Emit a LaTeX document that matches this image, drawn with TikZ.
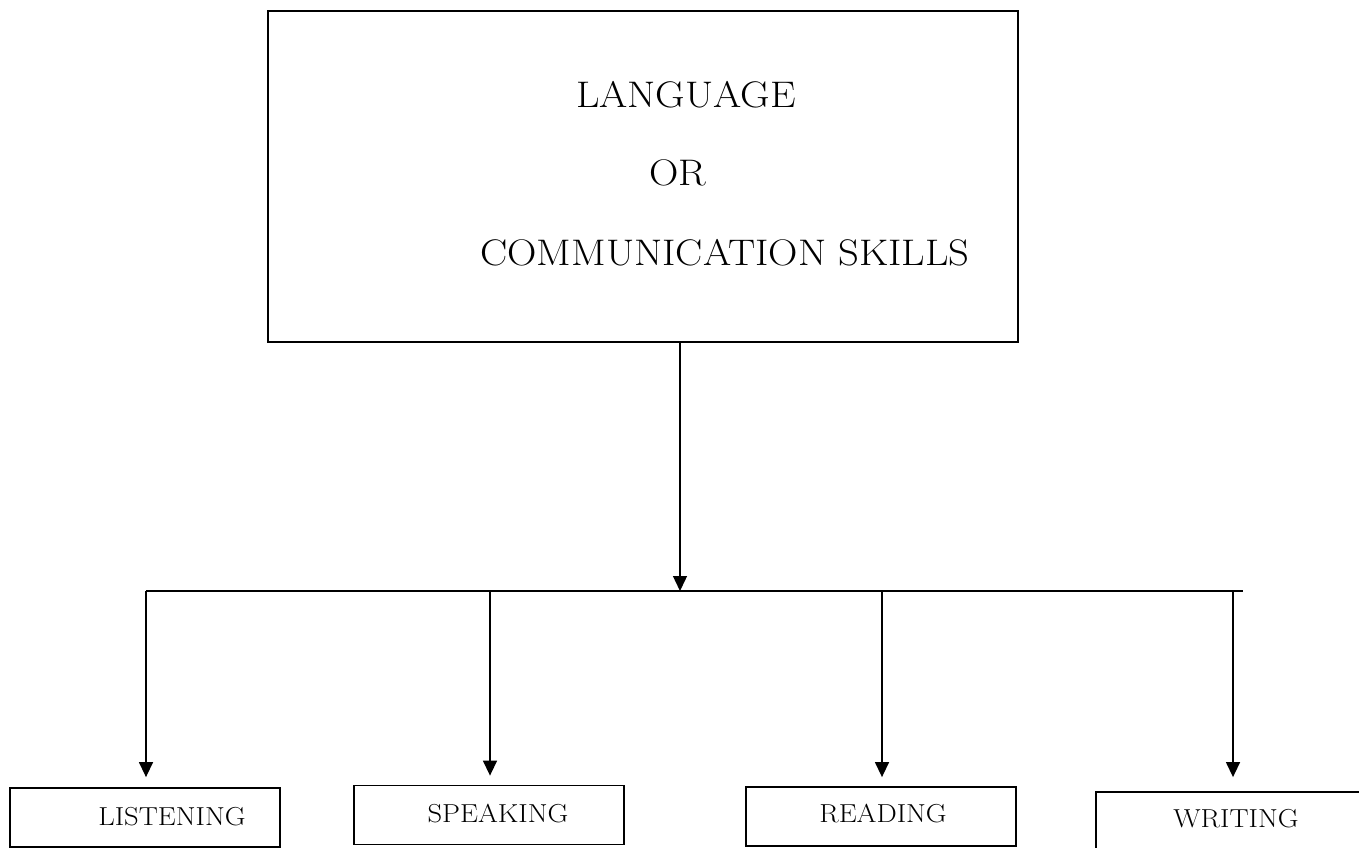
\documentclass[tikz,border=0pt]{standalone}
\usepackage{graphicx}
\usetikzlibrary{arrows.meta}
\newcommand{\wider}[1]{\scalebox{1.1}[1]{#1}}
\begin{document}
\begin{tikzpicture}[x=1pt, y=-1pt, >={Triangle[length=15pt,width=14pt]},
  mainbox/.style={draw, line width=1.8pt, minimum width=750pt, minimum height=331pt, inner sep=0pt},
  skillbox/.style={draw, line width=1.8pt, minimum width=270pt, minimum height=59pt, inner sep=0pt},
  bigtext/.style={anchor=base, inner sep=0pt, font=\fontsize{37}{44}\selectfont},
  smalltext/.style={anchor=base, inner sep=0pt, font=\fontsize{26}{31}\selectfont},
  link/.style={line width=1.4pt}]
  \useasboundingbox (0,0) rectangle (1359,848);

  \node[mainbox] (lang) at (643,176.5) {};
  \node[bigtext] (langA) at (686,108) {\wider{LANGUAGE}};
  \node[bigtext] (langB) at (678,185) {\wider{OR}};
  \node[bigtext] (langC) at (725,265) {\wider{COMMUNICATION SKILLS}};

  \node[skillbox] (listen) at (145,817.5) {};
  \node[skillbox] (speak) at (489,815) {};
  \node[skillbox] (read) at (881,816.5) {};
  \node[skillbox, minimum width=268pt, minimum height=62pt] (write) at (1230,823) {};
  \node[smalltext] (listenT) at (172,825) {\wider{LISTENING}};
  \node[smalltext] (speakT) at (498,822) {\wider{SPEAKING}};
  \node[smalltext] (readT) at (883,822) {\wider{READING}};
  \node[smalltext] (writeT) at (1236,827) {\wider{WRITING}};

  \coordinate (hub) at (680,591);
  \coordinate (busL) at (146,591);
  \coordinate (busS) at (490,591);
  \coordinate (busR) at (882,591);
  \coordinate (busW) at (1233,591);
  \coordinate (busE) at (1243,591);

  \draw[link, ->] (lang.south -| hub) -- (hub);
  \draw[link] (busL) -- (busE);
  \draw[link, ->, shorten >=10pt] (busL) -- (busL |- listen.north);
  \draw[link, ->, shorten >=9pt] (busS) -- (busS |- speak.north);
  \draw[link, ->, shorten >=9pt] (busR) -- (busR |- read.north);
  \draw[link, ->, shorten >=14pt] (busW) -- (busW |- write.north);
\end{tikzpicture}
\end{document}
